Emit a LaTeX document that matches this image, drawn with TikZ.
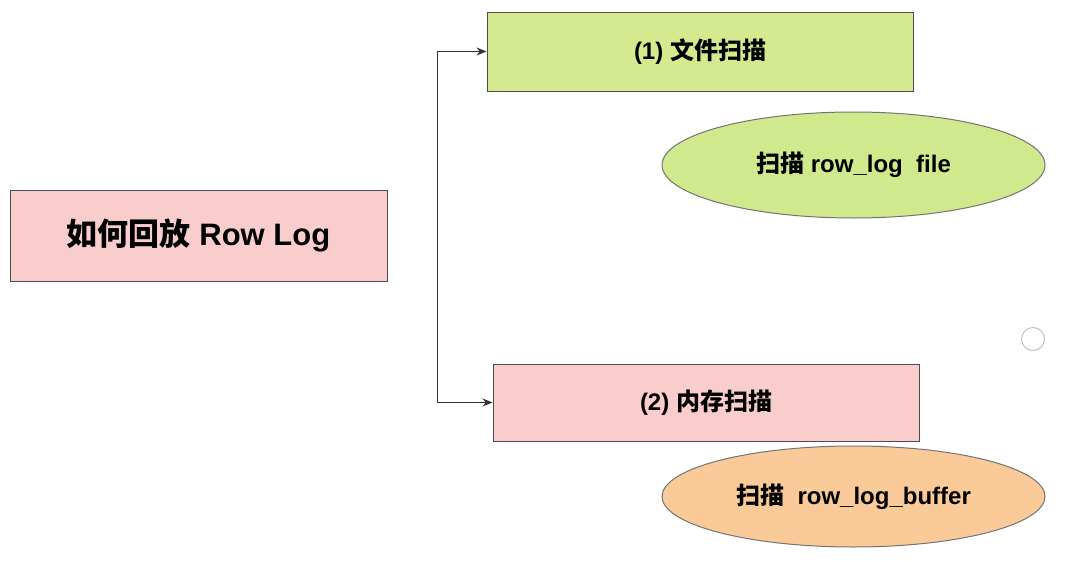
\documentclass[tikz,border=0pt]{standalone}
\usepackage{fontspec}
\setmainfont{Liberation Sans}
\newfontfamily\cjk{Noto Sans CJK SC}
\usetikzlibrary{arrows.meta,shapes.geometric}
\definecolor{rowpink}{HTML}{F9CDCC}
\definecolor{filegreen}{HTML}{D5EA8F}
\definecolor{ovalgreen}{HTML}{CFE98C}
\definecolor{bufforange}{HTML}{FACB98}
\begin{document}
\begin{tikzpicture}[x=1pt,y=-1pt,>={Stealth[length=10pt,width=8pt]},line width=1pt]
  \tikzstyle{stage}=[draw=black!70, inner sep=0pt, font=\bfseries\fontsize{24}{28}\selectfont]
  \tikzstyle{scan}=[ellipse, draw=black!55, inner sep=0pt, minimum width=383pt, font=\bfseries\fontsize{24}{28}\selectfont]

  \useasboundingbox (0,0) rectangle (1066,562);

  \node[stage, fill=rowpink, minimum width=377pt, minimum height=91pt, font=\bfseries\fontsize{31}{36}\selectfont] (replay) at (198.5,235.5) {{\cjk 如何回放} Row Log};

  \node[stage, fill=filegreen, minimum width=426pt, minimum height=79pt] (file) at (700,51.5) {(1) {\cjk 文件扫描}};
  \node[scan, fill=ovalgreen, minimum height=106pt] (fileoval) at (853.5,165) {{\cjk 扫描} row\_log\ \ file};

  \node[stage, fill=rowpink, minimum width=426pt, minimum height=77pt] (mem) at (706,402.5) {(2) {\cjk 内存扫描}};
  \node[scan, fill=bufforange, minimum height=101pt] (memoval) at (853.5,496.5) {{\cjk 扫描}\ \ row\_log\_buffer};

  \node[circle, draw=black!25, minimum size=23pt, inner sep=0pt] (dot) at (1033,339) {};

  \coordinate (fork) at (437,227);
  \draw[->, black!80] (fork) |- (file.west);
  \draw[->, black!80] (fork) |- (mem.west);
\end{tikzpicture}
\end{document}
